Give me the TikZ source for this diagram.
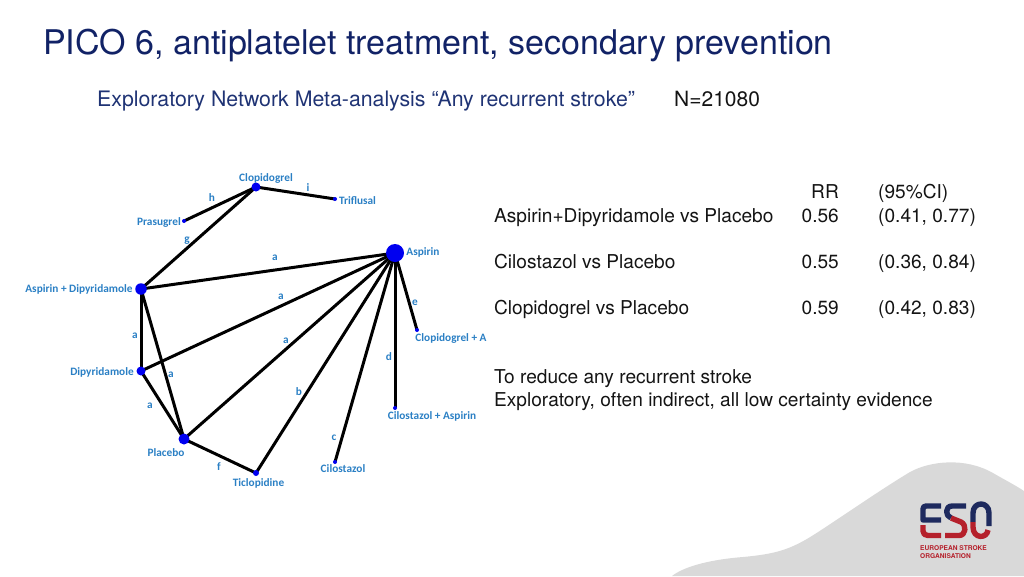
\documentclass[tikz,border=0pt]{standalone}
\usepackage{fontspec}
\setmainfont{TeX Gyre Heros}
\newfontfamily\netfont{Carlito}[Scale=1.0]
\usetikzlibrary{backgrounds}
\definecolor{titlenavy}{HTML}{112266}
\definecolor{subblue}{HTML}{1F3374}
\definecolor{netblue}{HTML}{2A7FC4}
\definecolor{nodeblue}{HTML}{0000F0}
\definecolor{blobgrey}{HTML}{D9D9D9}
\definecolor{logonavy}{HTML}{1E2A5E}
\definecolor{logored}{HTML}{B5202B}
\tikzset{
  px/.style={x=1pt,y=-1pt},
  dot/.style={circle,fill=nodeblue,inner sep=0pt,minimum size=#1},
  netlabel/.style={font=\netfont\bfseries\fontsize{11.3}{13}\selectfont,text=netblue,inner sep=0pt,yshift=-0.7pt},
  edge/.style={draw=black,line width=3pt},
  tabletext/.style={font=\fontsize{19.1}{23}\selectfont,text=black!92,inner sep=0pt,anchor=base west},
  tableright/.style={font=\fontsize{19.1}{23}\selectfont,text=black!92,inner sep=0pt,anchor=base east},
  logostroke/.style={line width=5.4pt,line cap=butt,line join=round}
}
\begin{document}
\begin{tikzpicture}[px]
\useasboundingbox (0,0) rectangle (1024,576);
% grey wave
\fill[blobgrey] (672,576) .. controls (682,568) and (705,560) .. (743,557)
  .. controls (775,554) and (790,550) .. (815,534)
  .. controls (840,518) and (880,490) .. (910,472)
  .. controls (930,461) and (965,457) .. (993,473)
  .. controls (1005,480) and (1015,485) .. (1024,491)
  -- (1024,576) -- cycle;
% titles
\node[anchor=base west,inner sep=0pt,text=titlenavy,font=\fontsize{34}{38}\selectfont] (title) at (43,54) {PICO 6, antiplatelet treatment, secondary prevention};
\node[anchor=base west,inner sep=0pt,text=subblue,font=\fontsize{21.3}{24}\selectfont] (subtitle) at (97,106) {Exploratory Network Meta-analysis “Any recurrent stroke”};
\node[anchor=base west,inner sep=0pt,text=black!92,font=\fontsize{21}{24}\selectfont] (nval) at (674,106) {N=21080};
% network nodes
\node[dot=9pt] (clop) at (256,187) {};
\node[dot=4pt] (trif) at (335,199) {};
\node[dot=4pt] (pras) at (184,221) {};
\node[dot=11.5pt] (ad) at (141,289) {};
\node[dot=18pt] (asp) at (395,253) {};
\node[dot=9pt] (dip) at (141,371) {};
\node[dot=11pt] (plac) at (184,439) {};
\node[dot=6pt] (tic) at (256,473) {};
\node[dot=4pt] (cil) at (335,462) {};
\node[dot=4pt] (cilasp) at (395,408) {};
\node[dot=4pt] (clopa) at (417,330) {};
\begin{scope}[on background layer]
\draw[edge] (clop.center) -- (trif.center);
\draw[edge] (clop.center) -- (pras.center);
\draw[edge] (clop.center) -- (ad.center);
\draw[edge] (ad.center) -- (asp.center);
\draw[edge] (dip.center) -- (asp.center);
\draw[edge] (plac.center) -- (asp.center);
\draw[edge] (tic.center) -- (asp.center);
\draw[edge] (cil.center) -- (asp.center);
\draw[edge] (cilasp.center) -- (asp.center);
\draw[edge] (clopa.center) -- (asp.center);
\draw[edge] (ad.center) -- (dip.center);
\draw[edge] (ad.center) -- (plac.center);
\draw[edge] (dip.center) -- (plac.center);
\draw[edge] (plac.center) -- (tic.center);
\end{scope}
% network labels
\node[netlabel] (lclop) at (266,178) {Clopidogrel};
\node[netlabel] (ltrif) at (357.5,200) {Triflusal};
\node[netlabel] (lpras) at (159,222) {Prasugrel};
\node[netlabel] (lad) at (79,289) {Aspirin + Dipyridamole};
\node[netlabel] (lasp) at (423,252) {Aspirin};
\node[netlabel] (lclopa) at (451,338) {Clopidogrel + A};
\node[netlabel] (ldip) at (102,372) {Dipyridamole};
\node[netlabel] (lcilasp) at (432,416) {Cilostazol + Aspirin};
\node[netlabel] (lplac) at (166,452) {Placebo};
\node[netlabel] (ltic) at (258.5,482.5) {Ticlopidine};
\node[netlabel] (lcil) at (343,468) {Cilostazol};
\node[netlabel] (ei) at (308,187) {i};
\node[netlabel] (eh) at (212,197) {h};
\node[netlabel] (eg) at (187,240) {g};
\node[netlabel] (ea1) at (275,257) {a};
\node[netlabel] (ea2) at (281,296) {a};
\node[netlabel] (ee) at (415,302) {e};
\node[netlabel] (ea3) at (135,335) {a};
\node[netlabel] (ea4) at (286,340) {a};
\node[netlabel] (ed) at (389,356) {d};
\node[netlabel] (ea5) at (171,374) {a};
\node[netlabel] (ea6) at (150,405) {a};
\node[netlabel] (eb) at (299,391) {b};
\node[netlabel] (ec) at (334,437) {c};
\node[netlabel] (ef) at (219,466) {f};
% table
\node[tableright] (rrh) at (839,198) {RR};
\node[tabletext] (cih) at (878,198) {(95\%CI)};
\node[tabletext] (r1) at (494,222) {Aspirin+Dipyridamole vs Placebo};
\node[tableright] (r1a) at (839,222) {0.56};
\node[tabletext] (r1b) at (878,222) {(0.41, 0.77)};
\node[tabletext] (r2) at (494,268) {Cilostazol vs Placebo};
\node[tableright] (r2a) at (839,268) {0.55};
\node[tabletext] (r2b) at (878,268) {(0.36, 0.84)};
\node[tabletext] (r3) at (494,314) {Clopidogrel vs Placebo};
\node[tableright] (r3a) at (839,314) {0.59};
\node[tabletext] (r3b) at (878,314) {(0.42, 0.83)};
\node[tabletext] (n1) at (494,383) {To reduce any recurrent stroke};
\node[tabletext] (n2) at (494,406) {Exploratory, often indirect, all low certainty evidence};
% logo
\draw[logostroke,logonavy] (941,506) -- (926,506) .. controls (924,506) and (923,507) .. (923,509) -- (923,520) -- (941,520);
\draw[logostroke,logored] (923,525) -- (923,531) .. controls (923,534) and (925,535.5) .. (928,535.5) -- (941,535.5);
\draw[logostroke,logonavy] (966,506) -- (952,506) .. controls (945,506) and (945,516) .. (951,518);
\draw[logostroke,logored] (951,518) -- (961,522) .. controls (967,525) and (966,535.5) .. (959,535.5) -- (945,535.5);
\draw[logostroke,logonavy] (973,522) -- (973,513) .. controls (973,501) and (989,501) .. (989,513) -- (989,526);
\draw[logostroke,logored] (973,522) -- (973,527) .. controls (973,539) and (987,539) .. (988,530);
\node[anchor=base west,inner sep=0pt,text=logored,font=\bfseries\fontsize{6.6}{8}\selectfont] (logo1) at (920,550) {EUROPEAN STROKE};
\node[anchor=base west,inner sep=0pt,text=logored,font=\bfseries\fontsize{6.6}{8}\selectfont] (logo2) at (920,558) {ORGANISATION};
\end{tikzpicture}
\end{document}
